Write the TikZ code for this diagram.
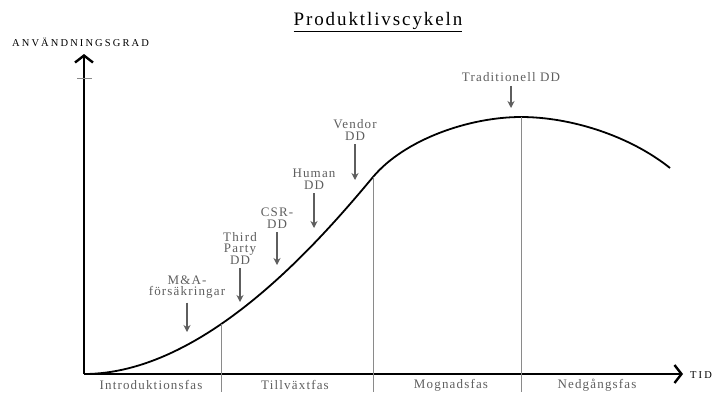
\documentclass[tikz,border=0pt]{standalone}
\usepackage{fontspec}
\setmainfont[LetterSpace=9]{Liberation Serif}
\usetikzlibrary{positioning,arrows.meta}
\definecolor{PLCGrey}{HTML}{5E5E5E}
\definecolor{PLCLine}{HTML}{8A8A8A}

\begin{document}
\begin{tikzpicture}[x=1pt,y=-1pt,>=Stealth]
  \tikzstyle{phase}=[font=\fontsize{13}{14}\selectfont,text=PLCGrey,inner sep=0pt]
  \tikzstyle{ddlabel}=[align=center,font=\fontsize{13}{11.5}\selectfont,text=PLCGrey,inner sep=0pt]
  \tikzstyle{axislabel}=[anchor=west,inner sep=0pt,font=\fontsize{10.5}{12}\selectfont\addfontfeature{LetterSpace=20}]
  \tikzstyle{ddarrow}=[-{Stealth[length=7pt,width=7pt]},draw=PLCGrey,line width=1.3pt,shorten <=4pt]
  \tikzstyle{axis}=[line width=2.4pt,-{Straight Barb[length=7pt,width=18pt]}]
  \tikzstyle{divider}=[draw=PLCLine,line width=0.9pt]
  \useasboundingbox (0,0) rectangle (723,392);

  % axes
  \coordinate (origin) at (84,374);
  \coordinate (ytop) at (84,54);
  \coordinate (xend) at (683,374);
  \draw[axis] (origin) -- (ytop);
  \draw[axis] (origin) -- (xend);
  \draw[draw=PLCLine,line width=1pt] (77,78) -- (92,78);
  \node[axislabel] (ylabel) at (12,42) {ANVÄNDNINGSGRAD};
  \node[axislabel] (tid) at (690,375) {TID};
  \node[font=\fontsize{19}{22}\selectfont\addfontfeature{LetterSpace=10}] (title) at (378,22) {\underline{Produktlivscykeln}};

  % curve
  \draw[line width=1.8pt] (origin) .. controls (204,374) and (318,243) .. (373,177)
    .. controls (405,139) and (470,117) .. (521,117)
    .. controls (571,117) and (630,136) .. (670,168);

  % phases
  \coordinate (d1) at (221,324);
  \coordinate (d2) at (373,177);
  \coordinate (d3) at (521,117);
  \draw[divider] (d1) -- (d1 |- 0,392);
  \draw[divider] (d2) -- (d2 |- 0,392);
  \draw[divider] (d3) -- (d3 |- 0,392);
  \node[phase] (intro) at (151,385) {Introduktionsfas};
  \node[phase] (growth) at (295,385) {Tillväxtfas};
  \node[phase] (mature) at (451,385) {Mognadsfas};
  \node[phase] (decline) at (597,385) {Nedgångsfas};

  % due diligence types
  \node[ddlabel] (ma) at (187,287) {M\&A-\\försäkringar};
  \node[ddlabel] (third) at (240,248) {Third\\Party\\DD};
  \node[ddlabel] (csr) at (277,218) {CSR-\\DD};
  \node[ddlabel] (human) at (314,179) {Human\\DD};
  \node[ddlabel] (vendor) at (355,130) {Vendor\\DD};
  \node[ddlabel] (trad) at (511,77) {Traditionell DD};
  \coordinate (matip) at (187,332);
  \coordinate (thirdtip) at (240,302);
  \coordinate (csrtip) at (277,265);
  \coordinate (humantip) at (314,228);
  \coordinate (vendortip) at (355,180);
  \coordinate (tradtip) at (511,108);
  \draw[ddarrow] (ma) -- (matip);
  \draw[ddarrow] (third) -- (thirdtip);
  \draw[ddarrow] (csr) -- (csrtip);
  \draw[ddarrow] (human) -- (humantip);
  \draw[ddarrow] (vendor) -- (vendortip);
  \draw[ddarrow] (trad) -- (tradtip);
\end{tikzpicture}
\end{document}
